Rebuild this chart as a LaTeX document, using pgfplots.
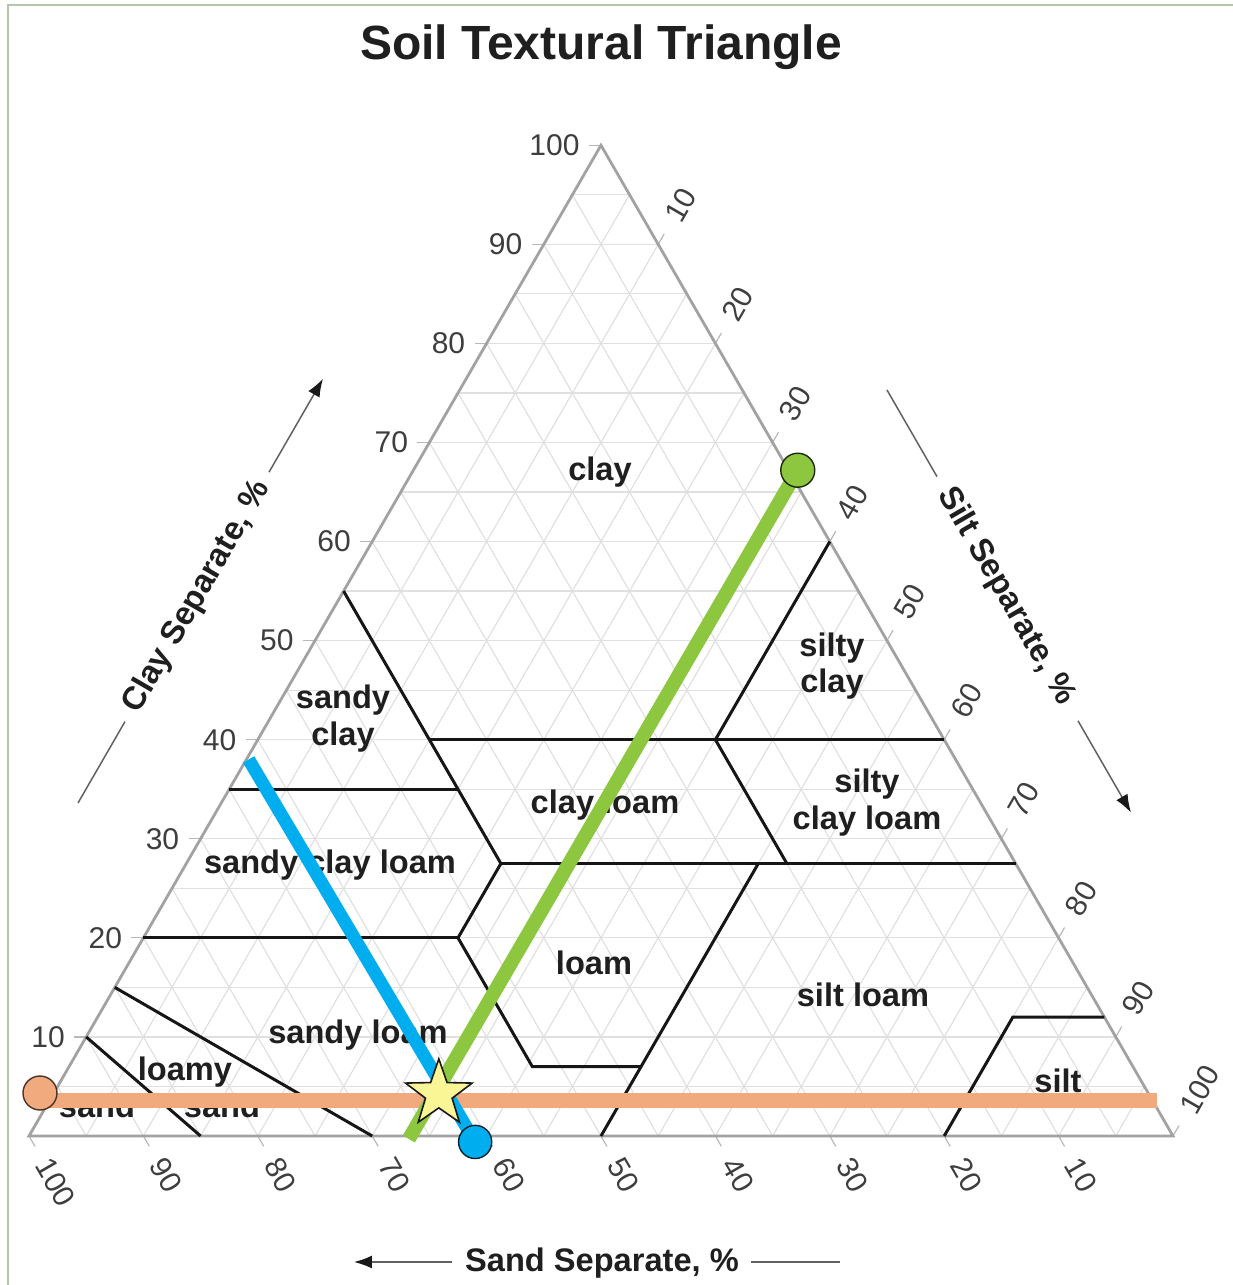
\documentclass[border=0pt]{standalone}
\usepackage{fontspec}
\setmainfont{Liberation Sans}
\usepackage{pgfplots}
\pgfplotsset{compat=1.18}
\usetikzlibrary{arrows.meta}

\definecolor{gridc}{RGB}{224,224,224}
\definecolor{edgec}{RGB}{162,162,162}
\definecolor{bndc}{RGB}{22,22,22}
\definecolor{greenc}{RGB}{141,198,63}
\definecolor{bluec}{RGB}{0,174,239}
\definecolor{orangec}{RGB}{241,170,125}
\definecolor{starc}{RGB}{250,246,150}
\definecolor{framec}{RGB}{178,200,168}
\definecolor{tickc}{RGB}{62,62,62}

\pgfdeclareplotmark{fstar}{%
  \pgfpathmoveto{\pgfpointpolar{90}{\pgfplotmarksize}}%
  \pgfpathlineto{\pgfpointpolar{126}{0.40*\pgfplotmarksize}}%
  \pgfpathlineto{\pgfpointpolar{162}{\pgfplotmarksize}}%
  \pgfpathlineto{\pgfpointpolar{198}{0.40*\pgfplotmarksize}}%
  \pgfpathlineto{\pgfpointpolar{234}{\pgfplotmarksize}}%
  \pgfpathlineto{\pgfpointpolar{270}{0.40*\pgfplotmarksize}}%
  \pgfpathlineto{\pgfpointpolar{306}{\pgfplotmarksize}}%
  \pgfpathlineto{\pgfpointpolar{342}{0.40*\pgfplotmarksize}}%
  \pgfpathlineto{\pgfpointpolar{18}{\pgfplotmarksize}}%
  \pgfpathlineto{\pgfpointpolar{54}{0.40*\pgfplotmarksize}}%
  \pgfpathclose
  \pgfusepathqfillstroke
}

\pgfplotsset{
  table/tern/.style={/pgfplots/table/row sep=\\,
    /pgfplots/table/x expr={\thisrow{si}+0.5*\thisrow{cl}},
    /pgfplots/table/y expr={0.8660254*\thisrow{cl}}},
}
\tikzset{
  bnd/.style={draw=bndc, line width=1.5pt, line join=miter},
  gl/.style={draw=gridc, line width=0.6pt},
  tickl/.style={draw=black!28, line width=0.6pt},
  tlab/.style={font=\fontsize{15}{16}\selectfont, text=tickc, inner sep=0pt},
  lab/.style={font=\fontsize{16.3}{18}\selectfont\bfseries, text=black!88, anchor=base, inner sep=0pt},
  axl/.style={font=\fontsize{16.3}{18}\selectfont\bfseries, text=black!88, inner sep=0pt},
  axline/.style={draw=black!62, line width=0.75pt},
  arr/.style={-{Latex[length=9pt,width=6.5pt,color=black!90]}},
}

\begin{document}
\begin{tikzpicture}
\begin{axis}[
  x=5.72pt, y=5.72pt,
  xmin=-2.535, xmax=105.245, ymin=-13.024, ymax=99.301,
  hide axis, clip=false,
]
\coordinate (BL) at (rel axis cs:0,0);
\coordinate (TR) at (rel axis cs:1,1);

% frame
\draw[framec, line width=1.4pt] (axis cs:{(8-29)/11.44},{(1136-1300)/11.44}) -- (axis cs:{(8-29)/11.44},{(1136-5)/11.44}) -- (axis cs:{(1250-29)/11.44},{(1136-5)/11.44});

% title
\node[font=\fontsize{24}{28}\selectfont\bfseries, text=black!88, anchor=base, inner sep=0pt] at (axis cs:{(601-29)/11.44},{(1136-60)/11.44}) {Soil Textural Triangle};

% grid every 5 %
\pgfplotsinvokeforeach{5,10,...,95}{
  \draw[gl] (axis cs:{0.5*#1},{0.8660254*#1}) -- (axis cs:{100-0.5*#1},{0.8660254*#1});
  \draw[gl] (axis cs:#1,0) -- (axis cs:{50+0.5*#1},{0.8660254*(100-#1)});
  \draw[gl] (axis cs:#1,0) -- (axis cs:{0.5*#1},{0.8660254*#1});
}

% ticks and tick labels
\pgfplotsinvokeforeach{10,20,...,100}{
  \draw[tickl] (axis cs:{0.5*#1},{0.8660254*#1}) -- (axis cs:{0.5*#1-1.05},{0.8660254*#1});
  \node[tlab, anchor=east] at (axis cs:{0.5*#1-1.84},{0.8660254*#1}) {#1};
  \draw[tickl] (axis cs:{50+0.5*#1},{0.8660254*(100-#1)}) -- (axis cs:{50.525+0.5*#1},{0.8660254*(100-#1)+0.909});
  \node[tlab, anchor=west, rotate=60] at (axis cs:{51.225+0.5*#1},{0.8660254*(100-#1)+2.12}) {#1};
  \draw[tickl] (axis cs:{100-#1},0) -- (axis cs:{100.525-#1},-0.909);
  \node[tlab, anchor=west, rotate=-60] at (axis cs:{101.225-#1},-2.12) {#1};
}

% triangle outline
\draw[edgec, line width=1.4pt, line join=miter] (axis cs:0,0) -- (axis cs:100,0) -- (axis cs:50,86.60254) -- cycle;

% class boundaries (silt %, clay %)
\addplot[bnd] table[tern] {si cl\\ 0 55\\ 27.5 27.5\\};
\addplot[bnd] table[tern] {si cl\\ 15 40\\ 60 40\\};
\addplot[bnd] table[tern] {si cl\\ 40 40\\ 40 60\\};
\addplot[bnd] table[tern] {si cl\\ 0 35\\ 20 35\\};
\addplot[bnd] table[tern] {si cl\\ 27.5 27.5\\ 72.5 27.5\\};
\addplot[bnd] table[tern] {si cl\\ 40 40\\ 52.5 27.5\\};
\addplot[bnd] table[tern] {si cl\\ 0 20\\ 27.5 20\\};
\addplot[bnd] table[tern] {si cl\\ 27.5 27.5\\ 27.5 20\\ 40.5 7\\ 50 7\\};
\addplot[bnd] table[tern] {si cl\\ 50 27.5\\ 50 0\\};
\addplot[bnd] table[tern] {si cl\\ 80 0\\ 80 12\\ 88 12\\};
\addplot[bnd] table[tern] {si cl\\ 0 15\\ 30 0\\};
\addplot[bnd] table[tern] {si cl\\ 0 10\\ 15 0\\};

% class names
\node[lab] at (axis cs:{(600-29)/11.44},{(1136-481)/11.44}) {clay};
\node[lab] at (axis cs:{(832-29)/11.44},{(1136-656)/11.44}) {silty};
\node[lab] at (axis cs:{(832-29)/11.44},{(1136-693)/11.44}) {clay};
\node[lab] at (axis cs:{(343-29)/11.44},{(1136-708)/11.44}) {sandy};
\node[lab] at (axis cs:{(343-29)/11.44},{(1136-745)/11.44}) {clay};
\node[lab] at (axis cs:{(605-29)/11.44},{(1136-814)/11.44}) {clay loam};
\node[lab] at (axis cs:{(867-29)/11.44},{(1136-793)/11.44}) {silty};
\node[lab] at (axis cs:{(867-29)/11.44},{(1136-829)/11.44}) {clay loam};
\node[lab] at (axis cs:{(330-29)/11.44},{(1136-873)/11.44}) {sandy clay loam};
\node[lab] at (axis cs:{(594-29)/11.44},{(1136-974)/11.44}) {loam};
\node[lab] at (axis cs:{(863-29)/11.44},{(1136-1006)/11.44}) {silt loam};
\node[lab] at (axis cs:{(358-29)/11.44},{(1136-1043)/11.44}) {sandy loam};
\node[lab] at (axis cs:{(185-29)/11.44},{(1136-1080)/11.44}) {loamy};
\node[lab] at (axis cs:{(222-29)/11.44},{(1136-1117)/11.44}) {sand};
\node[lab] at (axis cs:{(97-29)/11.44},{(1136-1117)/11.44}) {sand};
\node[lab] at (axis cs:{(1058-29)/11.44},{(1136-1092)/11.44}) {silt};

% axis titles with arrows
\draw[axline] (axis cs:{(78-29)/11.44},{(1136-803)/11.44}) -- (axis cs:{(125-29)/11.44},{(1136-721.6)/11.44});
\draw[axline, arr] (axis cs:{(269-29)/11.44},{(1136-472.2)/11.44}) -- (axis cs:{(323-29)/11.44},{(1136-378.7)/11.44});
\node[axl, rotate=60] at (axis cs:{(197-29)/11.44},{(1136-597)/11.44}) {Clay Separate, \%};

\draw[axline] (axis cs:{(887-29)/11.44},{(1136-390)/11.44}) -- (axis cs:{(937-29)/11.44},{(1136-476.6)/11.44});
\draw[axline, arr] (axis cs:{(1078-29)/11.44},{(1136-720.8)/11.44}) -- (axis cs:{(1131-29)/11.44},{(1136-812.6)/11.44});
\node[axl, rotate=-60] at (axis cs:{(1006-29)/11.44},{(1136-596)/11.44}) {Silt Separate, \%};

\draw[axline, arr] (axis cs:{(452-29)/11.44},{(1136-1262)/11.44}) -- (axis cs:{(354-29)/11.44},{(1136-1262)/11.44});
\draw[axline] (axis cs:{(751-29)/11.44},{(1136-1262)/11.44}) -- (axis cs:{(840-29)/11.44},{(1136-1262)/11.44});
\node[axl, anchor=base] at (axis cs:{(602-29)/11.44},{(1136-1271)/11.44}) {Sand Separate, \%};

% example sample lines
\addplot[orangec, line width=7.5pt] table[tern] {si cl\\ -1.03 3.634\\ 96.78 3.634\\};
\addplot[bluec, line width=6.5pt] table[tern] {si cl\\ 0.2 38\\ 39.3 -0.6\\};
\addplot[greenc, line width=7pt] table[tern] {si cl\\ 33.35 -0.3\\ 33.6 67.2\\};

\addplot[only marks, mark=*, mark size=8.5pt, mark options={fill=orangec, draw=black!70!orangec, line width=0.7pt}] table[tern] {si cl\\ -1.21 4.34\\};
\addplot[only marks, mark=*, mark size=8.3pt, mark options={fill=bluec, draw=black!80!bluec, line width=0.7pt}] table[tern] {si cl\\ 39.3 -0.6\\};
\addplot[only marks, mark=*, mark size=8.5pt, mark options={fill=greenc, draw=black!80!greenc, line width=0.7pt}] table[tern] {si cl\\ 33.6 67.2\\};
\addplot[only marks, mark=fstar, mark size=17.5pt, mark options={fill=starc, draw=black!90, line width=0.8pt, line join=miter}] table[tern] {si cl\\ 33.7 4.25\\};
\end{axis}
\pgfresetboundingbox
\path[use as bounding box] (BL) rectangle (TR);
\end{tikzpicture}
\end{document}
